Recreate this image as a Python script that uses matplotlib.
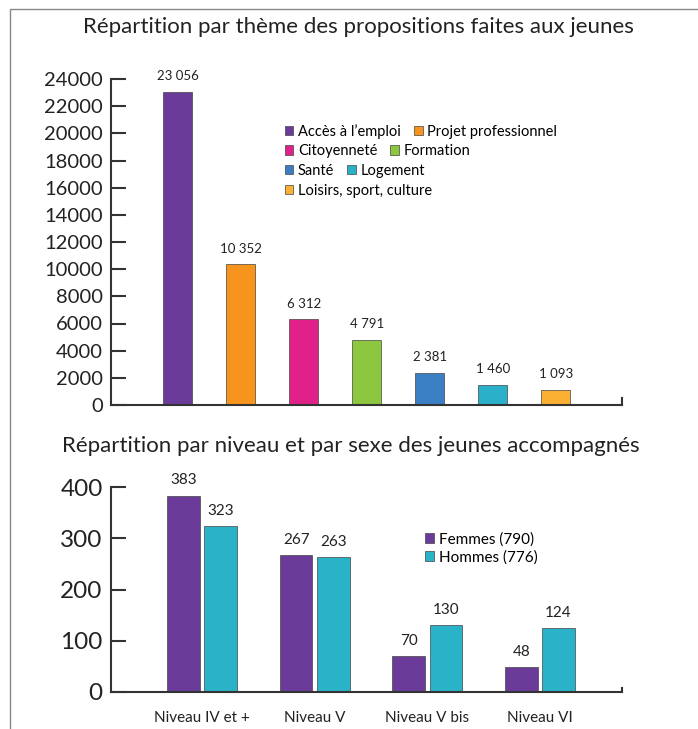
import matplotlib.pyplot as plt
import numpy as np
from matplotlib.lines import Line2D

plt.rcParams['font.family'] = ['Lato', 'DejaVu Sans']

# données du graphique du haut
themes = ['Accès à l’emploi', 'Projet professionnel', 'Citoyenneté', 'Formation',
          'Santé', 'Logement', 'Loisirs, sport, culture']
propositions = [23056, 10352, 6312, 4791, 2381, 1460, 1093]
couleurs_themes = ['#6a3b98', '#f7941e', '#e0218a', '#8dc63f', '#3a7fc3', '#2ab0c8', '#fbb034']

# données du graphique du bas
niveaux = ['Niveau IV et +', 'Niveau V', 'Niveau V bis', 'Niveau VI']
femmes = [383, 267, 70, 48]
hommes = [323, 263, 130, 124]
labels_sexe = ['Femmes (790)', 'Hommes (776)']
couleurs_sexe = ['#6a3b98', '#2ab3c8']

axis_col = '#333333'

def fmt(v):
    return f'{v:,}'.replace(',', ' ')

fig = plt.figure(figsize=(6.98, 7.29), dpi=100)

# cadre gris autour
fig.add_artist(plt.Rectangle((10 / 698, -0.05), 1.0, 1.05 - 9 / 729,
                             transform=fig.transFigure, fill=False,
                             edgecolor='#888888', lw=1.0))

def style_axes(ax, size):
    for s in ['top', 'right']:
        ax.spines[s].set_visible(False)
    for s in ['left', 'bottom']:
        ax.spines[s].set_color(axis_col)
        ax.spines[s].set_linewidth(1.5)
    ax.tick_params(axis='y', direction='in', length=11, width=1.5,
                   color=axis_col, labelsize=size, labelcolor='#222222', pad=6)
    ax.tick_params(axis='x', length=0)
    # petit crochet au bout de l'axe x
    ax.add_line(Line2D([1, 1], [0, 0.02], transform=ax.transAxes,
                       color=axis_col, lw=1.5, clip_on=False))

# ---- graphique du haut ----
ax1 = fig.add_axes([111 / 698, 1 - 405 / 729, 511 / 698, 326 / 729])
x1 = np.arange(len(themes))
bars = []
for i in range(len(themes)):
    b = ax1.bar(x1[i], propositions[i], width=0.46, color=couleurs_themes[i],
                edgecolor='#444444', linewidth=0.5, label=themes[i])
    bars.append(b)
    ax1.annotate(fmt(propositions[i]), (x1[i], propositions[i]),
                 xytext=(0, 7), textcoords='offset points',
                 ha='center', va='bottom', fontsize=9.5, color='#222222')
ax1.set_xlim(-1.06, 7.05)
ax1.set_ylim(0, 24000)
ax1.set_yticks(np.arange(0, 24001, 2000))
ax1.set_xticks([])
style_axes(ax1, 14.5)

rows = [[0, 1], [2, 3], [4, 5], [6]]
legs = []
for r, idx in enumerate(rows):
    leg = ax1.legend([bars[i] for i in idx], [themes[i] for i in idx],
                     ncol=len(idx), loc='center left',
                     bbox_to_anchor=(0.34, 0.84 - r * 0.061),
                     frameon=False, fontsize=10.5, handlelength=0.6,
                     handleheight=0.6, handletextpad=0.3, columnspacing=0.9,
                     borderpad=0, borderaxespad=0)
    legs.append(leg)
for leg in legs[:-1]:
    ax1.add_artist(leg)

fig.text(0.513, 1 - 27 / 729, 'Répartition par thème des propositions faites aux jeunes',
         ha='center', va='center', fontsize=16, color='#222222')

# ---- graphique du bas ----
ax2 = fig.add_axes([111 / 698, 1 - 692 / 729, 511 / 698, 205 / 729])
x2 = np.arange(len(niveaux))
w = 0.29
bf = ax2.bar(x2 - 0.165, femmes, width=w, color=couleurs_sexe[0],
             edgecolor='#444444', linewidth=0.5, label=labels_sexe[0])
bh = ax2.bar(x2 + 0.165, hommes, width=w, color=couleurs_sexe[1],
             edgecolor='#444444', linewidth=0.5, label=labels_sexe[1])
for xs, vals in [(x2 - 0.165, femmes), (x2 + 0.165, hommes)]:
    for xv, v in zip(xs, vals):
        ax2.annotate(str(v), (xv, v), xytext=(0, 6), textcoords='offset points',
                     ha='center', va='bottom', fontsize=11, color='#222222')
ax2.set_xlim(-0.81, 3.73)
ax2.set_ylim(0, 400)
ax2.set_yticks([0, 100, 200, 300, 400])
ax2.set_xticks(x2)
ax2.set_xticklabels(niveaux, fontsize=11, color='#222222')
style_axes(ax2, 17.5)
ax2.tick_params(axis='x', pad=14)
ax2.legend(loc='upper left', bbox_to_anchor=(0.615, 0.78), frameon=False,
           fontsize=11, handlelength=0.6, handleheight=0.6, handletextpad=0.3,
           labelspacing=0.25, borderpad=0, borderaxespad=0)

fig.text(0.503, 1 - 446 / 729, 'Répartition par niveau et par sexe des jeunes accompagnés',
         ha='center', va='center', fontsize=16, color='#222222')

fig.savefig('out.png', dpi=100)
